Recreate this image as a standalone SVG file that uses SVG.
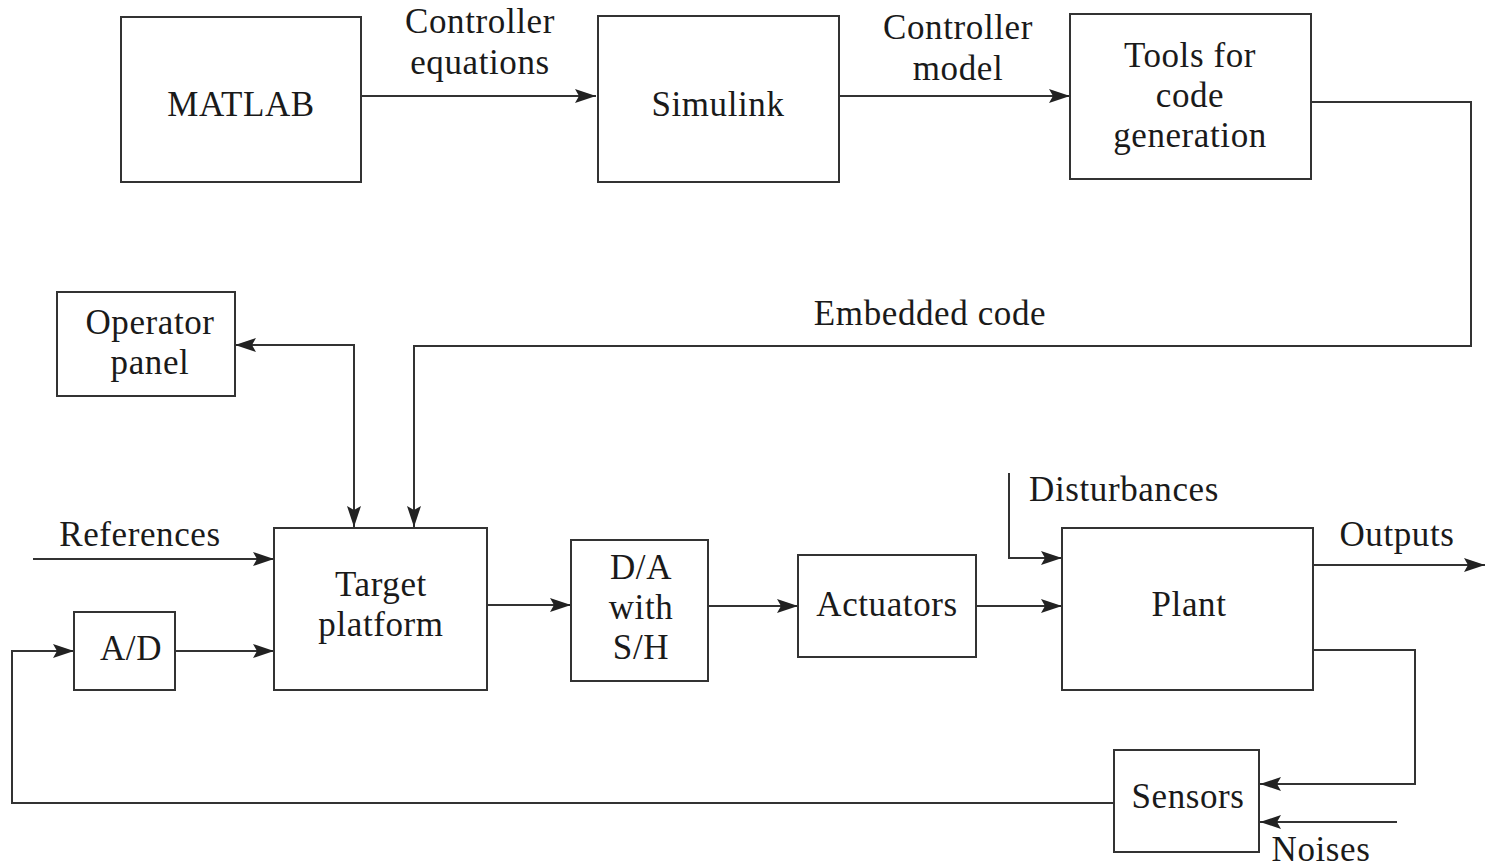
<svg xmlns="http://www.w3.org/2000/svg" width="1485" height="867" viewBox="0 0 1485 867">
<defs>
<marker id="ah" markerUnits="userSpaceOnUse" markerWidth="22" markerHeight="14" refX="21" refY="7" orient="auto-start-reverse">
<path d="M0,0 L21,7 L0,14 L4,7 z" fill="#222"/>
</marker>
<style>
.box{fill:#fff;stroke:#333;stroke-width:2}
.ln{fill:none;stroke:#333;stroke-width:2}
.t{font-family:"Liberation Serif","Times New Roman",serif;font-size:35px;letter-spacing:0.6px;fill:#1a1a1a;text-anchor:middle}
</style>
</defs>
<rect width="1485" height="867" fill="#fff"/>
<g id="connectors">
<path class="ln" d="M361,96 H596" marker-end="url(#ah)"/>
<path class="ln" d="M837,96 H1070" marker-end="url(#ah)"/>
<path class="ln" d="M1311,102 H1471 V346 H414 V527" marker-end="url(#ah)"/>
<path class="ln" d="M235,345 H354 V527" marker-start="url(#ah)" marker-end="url(#ah)"/>
<path class="ln" d="M33,559 H274" marker-end="url(#ah)"/>
<path class="ln" d="M175,651 H274" marker-end="url(#ah)"/>
<path class="ln" d="M1114,803 H12 V651 H74" marker-end="url(#ah)"/>
<path class="ln" d="M487,605 H571" marker-end="url(#ah)"/>
<path class="ln" d="M708,606 H798" marker-end="url(#ah)"/>
<path class="ln" d="M976,606 H1062" marker-end="url(#ah)"/>
<path class="ln" d="M1009,473 V558 H1062" marker-end="url(#ah)"/>
<path class="ln" d="M1313,565 H1485" marker-end="url(#ah)"/>
<path class="ln" d="M1313,650 H1415 V784 H1260" marker-end="url(#ah)"/>
<path class="ln" d="M1397,822 H1260" marker-end="url(#ah)"/>
</g>
<g id="labels">
<text class="t" x="480" y="33">Controller</text>
<text class="t" x="480" y="74">equations</text>
<text class="t" x="958" y="39">Controller</text>
<text class="t" x="958" y="80">model</text>
<text class="t" x="930" y="325">Embedded code</text>
<text class="t" x="140" y="546">References</text>
<text class="t" x="1124" y="501">Disturbances</text>
<text class="t" x="1397" y="546">Outputs</text>
<text class="t" x="1321" y="861">Noises</text>
</g>
<g id="matlab"><rect class="box" x="121" y="17" width="240" height="165"/><text class="t" x="241" y="116">MATLAB</text></g>
<g id="simulink"><rect class="box" x="598" y="16" width="241" height="166"/><text class="t" x="718" y="116">Simulink</text></g>
<g id="tools"><rect class="box" x="1070" y="14" width="241" height="165"/><text class="t" x="1190" y="67">Tools for</text><text class="t" x="1190" y="107">code</text><text class="t" x="1190" y="147">generation</text></g>
<g id="operator"><rect class="box" x="57" y="292" width="178" height="104"/><text class="t" x="150" y="334">Operator</text><text class="t" x="150" y="374">panel</text></g>
<g id="target"><rect class="box" x="274" y="528" width="213" height="162"/><text class="t" x="381" y="596">Target</text><text class="t" x="381" y="636">platform</text></g>
<g id="ad"><rect class="box" x="74" y="612" width="101" height="78"/><text class="t" x="131" y="660">A/D</text></g>
<g id="da"><rect class="box" x="571" y="540" width="137" height="141"/><text class="t" x="641" y="579">D/A</text><text class="t" x="641" y="619">with</text><text class="t" x="641" y="659">S/H</text></g>
<g id="actuators"><rect class="box" x="798" y="555" width="178" height="102"/><text class="t" x="887" y="616">Actuators</text></g>
<g id="plant"><rect class="box" x="1062" y="528" width="251" height="162"/><text class="t" x="1189" y="616">Plant</text></g>
<g id="sensors"><rect class="box" x="1114" y="750" width="145" height="102"/><text class="t" x="1188" y="808">Sensors</text></g>
</svg>
